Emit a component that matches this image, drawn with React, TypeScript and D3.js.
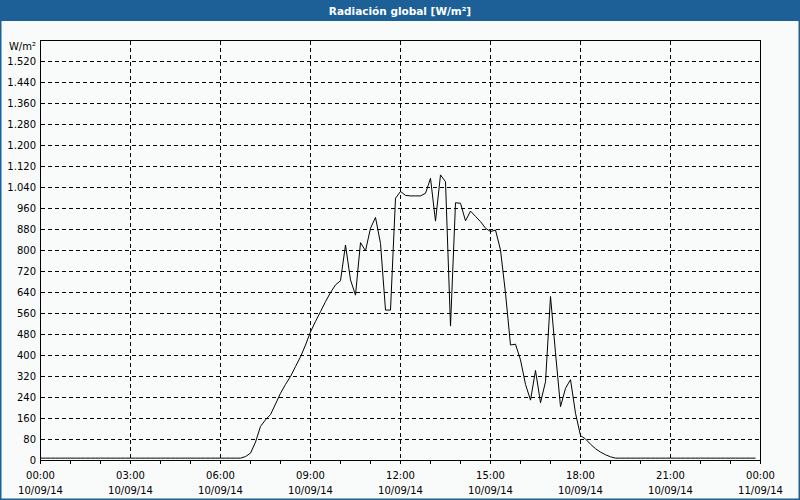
import React from "react";
import * as d3 from "d3";

const TITLE = "Radiación global [W/m²]";
const UNIT = "W/m²";
const DATE_LABELS = ["10/09/14", "10/09/14", "10/09/14", "10/09/14", "10/09/14", "10/09/14", "10/09/14", "10/09/14", "11/09/14"];
const HOUR_LABELS = ["00:00", "03:00", "06:00", "09:00", "12:00", "15:00", "18:00", "21:00", "00:00"];
const Y_TICKS = [0, 80, 160, 240, 320, 400, 480, 560, 640, 720, 800, 880, 960, 1040, 1120, 1200, 1280, 1360, 1440, 1520];

// 10-minute readings from 00:00 to 23:50
const RADIATION = [
  9, 9, 9, 9, 9, 9, 9, 9, 9, 9, 9, 9,
  9, 9, 9, 9, 9, 9, 9, 9, 9, 9, 9, 9,
  9, 9, 9, 9, 9, 9, 9, 9, 9, 9, 9, 9,
  9, 9, 9, 9, 9, 15, 28, 70, 130, 155, 175, 215,
  256, 290, 320, 358, 395, 440, 490, 530, 567, 605, 640, 669,
  685, 821, 688, 630, 830, 799, 885, 926, 827, 573, 573, 999,
  1025, 1010, 1008, 1008, 1008, 1018, 1075, 912, 1088, 1062, 512, 982,
  980, 913, 950, 930, 910, 885, 872, 878, 802, 637, 440, 443,
  383, 290, 230, 343, 220, 300, 625, 410, 205, 275, 308, 180,
  95, 82, 62, 45, 32, 22, 14, 9, 9, 9, 9, 9,
  9, 9, 9, 9, 9, 9, 9, 9, 9, 9, 9, 9,
  9, 9, 9, 9, 9, 9, 9, 9, 9, 9, 9, 9,
];
const STEP_MINUTES = 10;

const W = 800;
const H = 500;
const L = 40.5, R = 760.5, T = 40.5, B = 460.5;
const FONT = "'DejaVu Sans', Verdana, sans-serif";

export default function App() {
  const x = d3.scaleLinear().domain([0, 1440]).range([L, R]);
  const y = d3.scaleLinear().domain([0, 1600]).range([B, T]);
  const line = d3
    .line<number>()
    .x((_, i) => x(i * STEP_MINUTES))
    .y((d) => y(d));
  const hourTicks = d3.range(0, 1441, 60);
  const majorTicks = d3.range(0, 1441, 180);
  const crisp = (v: number) => Math.round(v - 0.5) + 0.5;

  return (
    <div>
      <style>{`body{margin:0;}`}</style>
      <svg width={W} height={H} style={{ display: "block" }} fontFamily={FONT}>
        <rect x={0} y={0} width={W} height={H} fill="#f9fbfb" />
        <rect x={0} y={0} width={W} height={21} fill="#1d6097" />
        <rect x={0.5} y={0.5} width={W - 1} height={H - 1} fill="none" stroke="#1d6097" strokeWidth={2} />
        <text x={W / 2} y={11} fill="#fff" fontWeight="bold" fontSize={10.5} textAnchor="middle" dominantBaseline="central">
          {TITLE}
        </text>

        <g shapeRendering="crispEdges" stroke="#000">
          {Y_TICKS.filter((v) => v > 0).map((v) => (
            <line key={"h" + v} x1={L} x2={R} y1={crisp(y(v))} y2={crisp(y(v))} strokeDasharray="4,3" />
          ))}
          {majorTicks.filter((m) => m > 0 && m < 1440).map((m) => (
            <line key={"v" + m} x1={crisp(x(m))} x2={crisp(x(m))} y1={T} y2={B} strokeDasharray="4,3" />
          ))}
          {hourTicks.map((m) => (
            <line key={"t" + m} x1={crisp(x(m))} x2={crisp(x(m))} y1={B} y2={B + 3} />
          ))}
          <rect x={L} y={T} width={R - L} height={B - T} fill="none" />
        </g>

        <path d={line(RADIATION) || ""} fill="none" stroke="#000" strokeWidth={1} />

        <g fontSize={10} fill="#000">
          <text x={36} y={46} textAnchor="end" dominantBaseline="central">{UNIT}</text>
          {Y_TICKS.map((v) => (
            <text key={"yl" + v} x={36} y={y(v)} textAnchor="end" dominantBaseline="central">
              {d3.format(",")(v).replace(/,/g, ".")}
            </text>
          ))}
          {majorTicks.map((m, i) => (
            <g key={"xl" + m}>
              <text x={x(m)} y={475} textAnchor="middle" dominantBaseline="central">{HOUR_LABELS[i]}</text>
              <text x={x(m)} y={490} textAnchor="middle" dominantBaseline="central">{DATE_LABELS[i]}</text>
            </g>
          ))}
        </g>
      </svg>
    </div>
  );
}
